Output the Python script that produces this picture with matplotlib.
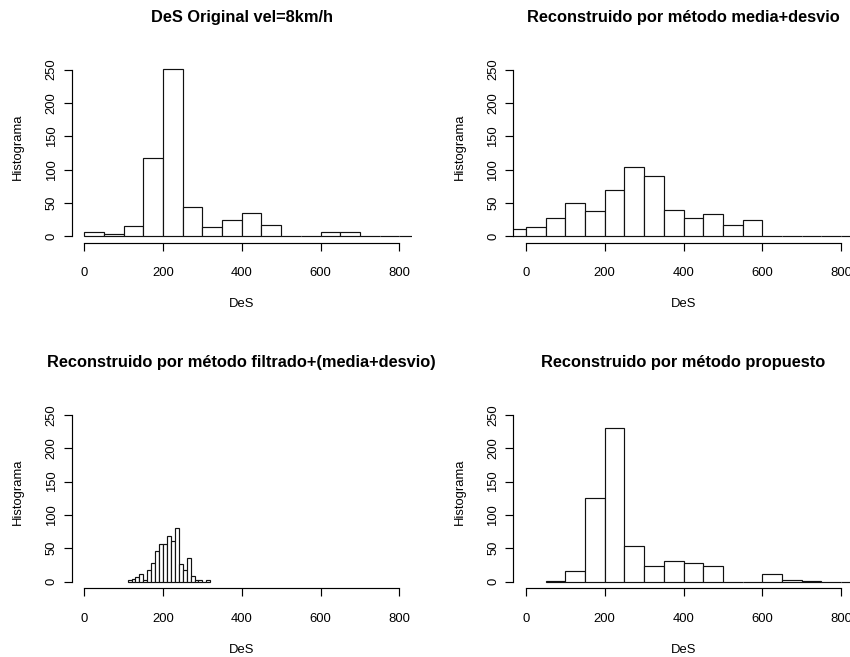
import matplotlib
matplotlib.use("Agg")
import matplotlib.pyplot as plt

plt.rcParams['font.family'] = ['Liberation Sans', 'DejaVu Sans']

# ---- data (histogram counts) ----
titles = ["DeS Original vel=8km/h",
          "Reconstruido por método media+desvio",
          "Reconstruido por método filtrado+(media+desvio)",
          "Reconstruido por método propuesto"]
x_label = "DeS"
y_label = "Histograma"
x_ticks = [0, 200, 400, 600, 800]
y_ticks = [0, 50, 100, 150, 200, 250]

# original
orig_start, orig_width = 0, 50
orig_counts = [6, 3, 16, 117, 251, 44, 14, 24, 35, 17, 0, 0, 6, 6, 1, 0, 0, 0]

# media+desvio
md_start, md_width = -50, 50
md_counts = [11, 14, 27, 50, 38, 70, 104, 90, 40, 27, 33, 17, 24, 0, 0, 1, 0, 0, 0]

# filtrado+(media+desvio)
fmd_start, fmd_width = 110, 10
fmd_counts = [2, 4, 7, 12, 3, 17, 28, 46, 56, 56, 68, 61, 80, 26, 18, 35, 8, 2, 2, 0, 2]

# propuesto
prop_start, prop_width = 50, 50
prop_counts = [1, 16, 125, 230, 53, 23, 31, 28, 23, 0, 0, 11, 3, 1, 0, 0, 0]

panels = [(orig_start, orig_width, orig_counts),
          (md_start, md_width, md_counts),
          (fmd_start, fmd_width, fmd_counts),
          (prop_start, prop_width, prop_counts)]

# ---- layout ----
W, H = 850, 657
fig = plt.figure(figsize=(W / 100, H / 100), dpi=100)
ax_w, ax_h = 340.2, 180.0
lefts_px = [71.7, 513.4]
tops_px = [63.0, 408.3]
positions = []
for r in range(2):
    for c in range(2):
        positions.append([lefts_px[c] / W, 1 - (tops_px[r] + ax_h) / H, ax_w / W, ax_h / H])

lw = 0.85
for pos, title, (start, width, counts) in zip(positions, titles, panels):
    ax = fig.add_axes(pos)
    edges = [start + i * width for i in range(len(counts))]
    ax.bar(edges, counts, width=width, align='edge', facecolor='white',
           edgecolor='#111111', linewidth=lw)
    ax.set_xlim(-32, 832)
    ax.set_ylim(-10, 260)
    for s in ['top', 'right']:
        ax.spines[s].set_visible(False)
    ax.spines['left'].set_bounds(0, 250)
    ax.spines['bottom'].set_bounds(0, 800)
    ax.spines['left'].set_linewidth(lw)
    ax.spines['bottom'].set_linewidth(lw)
    ax.set_xticks(x_ticks)
    ax.set_xticklabels([str(v) for v in x_ticks])
    ax.set_yticks(y_ticks)
    ax.set_yticklabels([str(v) for v in y_ticks], rotation=90, va='center')
    ax.tick_params(axis='both', length=5.5, width=lw, labelsize=9.4,
                   direction='out', colors='black')
    ax.tick_params(axis='x', pad=12)
    ax.tick_params(axis='y', pad=4.5)
    ax.set_xlabel(x_label, fontsize=9.4)
    ax.xaxis.set_label_coords(0.5, -61.5 / ax_h)
    ax.xaxis.label.set_va('center')
    ax.set_ylabel(y_label, fontsize=9.4)
    ax.yaxis.set_label_coords(-54 / ax_w, 0.535)
    ax.yaxis.label.set_va('center')
    ax.text(0.5, 1 + 45.5 / ax_h, title, transform=ax.transAxes,
            ha='center', va='center', fontsize=11.8, fontweight='bold')

fig.savefig("out.png", dpi=100, facecolor='white')
